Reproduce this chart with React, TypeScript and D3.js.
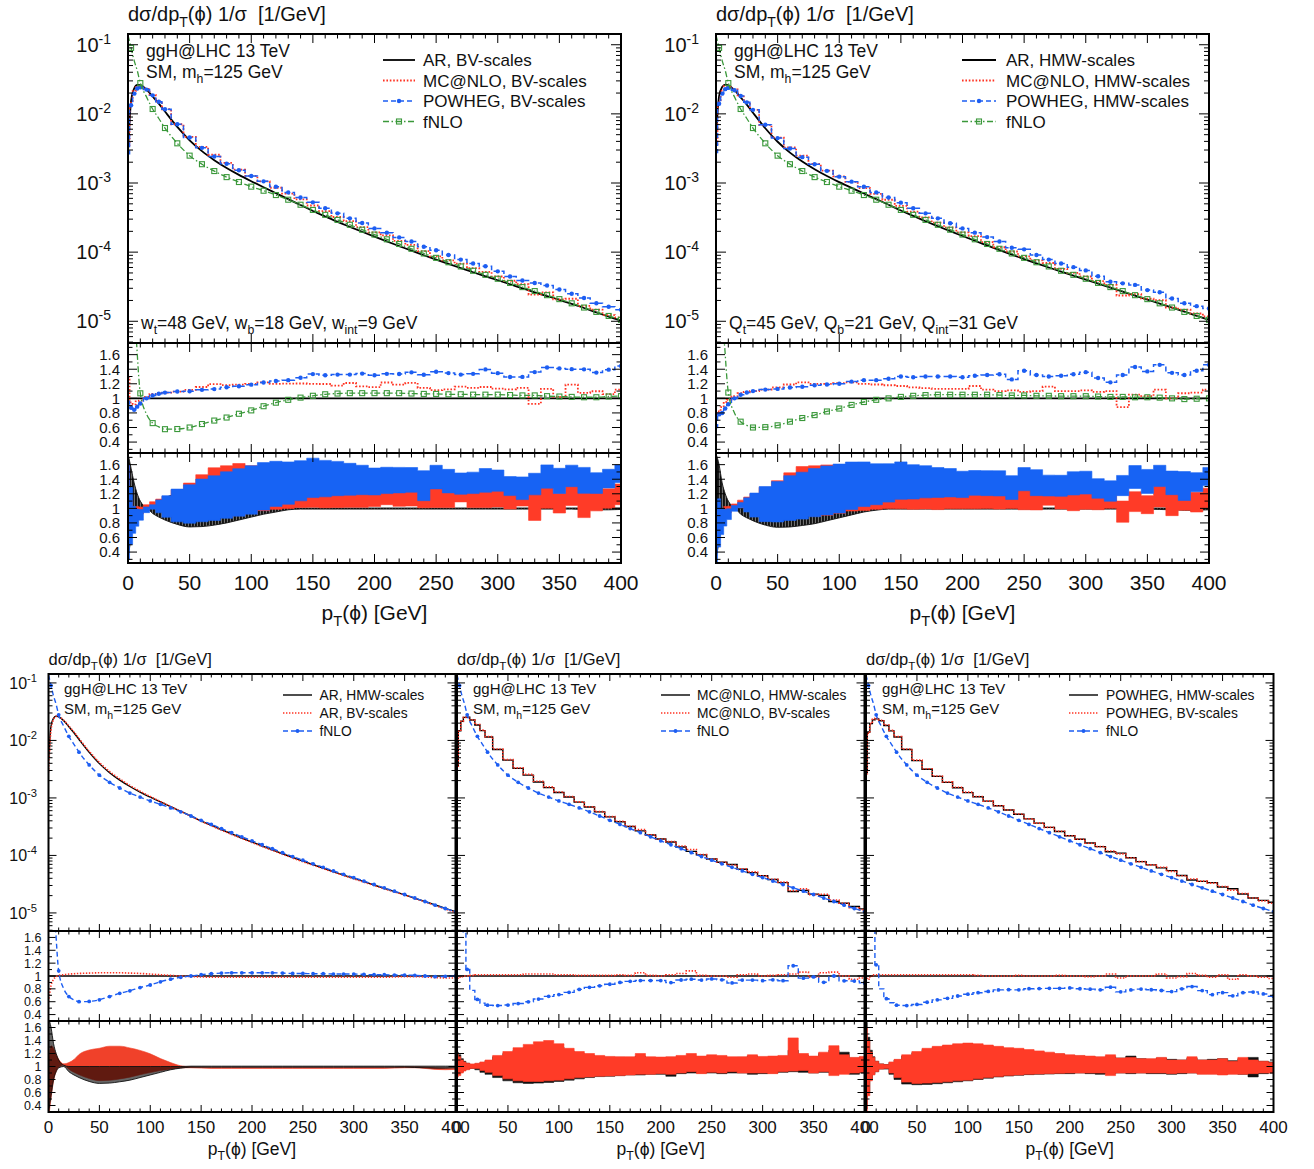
import React from "react";
import * as d3 from "d3";

// ---------------- data ----------------
const PT = [
  0, 2.5, 5, 7.5, 10, 15, 20, 25, 30,
  40, 50, 60, 70, 80, 90, 100, 110, 120, 130,
  140, 150, 160, 170, 180, 190, 200, 210, 220, 230,
  240, 250, 260, 270, 280, 290, 300, 310, 320, 330,
  340, 350, 360, 370, 380, 390, 400,
];

// AR, HMW-scales normalised distribution [1/GeV]
const AR_HMW = [
  4.6e-3, 1.8e-2, 2.45e-2, 2.65e-2, 2.58e-2, 2.2e-2, 1.73e-2, 1.36e-2, 1.04e-2,
  6.2e-3, 3.95e-3, 2.75e-3, 2.04e-3, 1.58e-3, 1.26e-3, 1.03e-3, 8.5e-4, 7.05e-4, 5.85e-4,
  4.85e-4, 4.0e-4, 3.35e-4, 2.8e-4, 2.37e-4, 2.01e-4, 1.71e-4, 1.46e-4, 1.25e-4, 1.07e-4,
  9.2e-5, 7.95e-5, 6.9e-5, 6.0e-5, 5.22e-5, 4.56e-5, 4.0e-5, 3.5e-5, 3.06e-5, 2.68e-5,
  2.35e-5, 2.06e-5, 1.8e-5, 1.58e-5, 1.38e-5, 1.2e-5, 1.05e-5,
];
// AR BV / AR HMW
const R_ARBV_HMW = [
  0.6, 0.85, 0.95, 0.99, 1.01, 1.02, 1.03, 1.035, 1.04,
  1.045, 1.05, 1.05, 1.05, 1.045, 1.04, 1.03, 1.02, 1.01, 1.0,
  0.99, 0.985, 0.98, 0.98, 0.98, 0.98, 0.98, 0.98, 0.98, 0.98,
  0.98, 0.98, 0.98, 0.98, 0.98, 0.98, 0.98, 0.98, 0.98, 0.98,
  0.985, 0.99, 0.99, 0.985, 0.975, 0.97, 0.97,
];
// fNLO / AR HMW
const R_FNLO_HMW = [
  30, 5, 2.4, 1.6, 1.08, 0.8, 0.68, 0.63, 0.6,
  0.605, 0.63, 0.68, 0.73, 0.77, 0.82, 0.86, 0.91, 0.95, 0.98,
  1.0, 1.02, 1.035, 1.045, 1.05, 1.05, 1.05, 1.05, 1.05, 1.045,
  1.04, 1.04, 1.035, 1.035, 1.03, 1.03, 1.03, 1.025, 1.02, 1.02,
  1.015, 1.015, 1.01, 1.0, 0.99, 0.995, 1.0,
];
// MC@NLO HMW / AR HMW
const R_MC_HMW = [
  0.8, 0.82, 0.88, 0.95, 0.98, 1.03, 1.07, 1.09, 1.1,
  1.12, 1.15, 1.19, 1.22, 1.2, 1.2, 1.21, 1.22, 1.2, 1.19,
  1.18, 1.17, 1.15, 1.14, 1.13, 1.13, 1.13, 1.17, 1.12, 1.1,
  1.11, 1.09, 1.1, 1.16, 1.1, 1.1, 1.11, 1.09, 1.1, 0.88,
  1.05, 1.03, 1.12, 1.0, 1.07, 1.08, 1.12,
];
// POWHEG HMW / AR HMW
const R_PW_HMW = [
  0.6, 0.78, 0.8, 0.86, 0.92, 1.0, 1.05, 1.08, 1.1,
  1.12, 1.13, 1.15, 1.16, 1.18, 1.19, 1.2, 1.23, 1.25, 1.25,
  1.27, 1.3, 1.29, 1.3, 1.3, 1.3, 1.29, 1.31, 1.32, 1.33,
  1.26, 1.38, 1.32, 1.3, 1.31, 1.33, 1.36, 1.28, 1.22, 1.32,
  1.43, 1.37, 1.46, 1.35, 1.32, 1.38, 1.46,
];
// MC@NLO BV / MC@NLO HMW
const R_MCBV_MCHMW = [
  0.97, 0.98, 0.99, 1.0, 1.0, 1.01, 1.02, 1.02, 1.02,
  1.02, 1.02, 1.02, 1.03, 1.03, 1.03, 1.02, 1.02, 1.01, 1.01,
  1.01, 1.01, 1.02, 1.01, 1.05, 1.01, 1.0, 1.02, 1.04, 1.08,
  1.01, 1.0, 1.0, 0.98, 1.02, 1.03, 1.0, 1.01, 1.02, 1.03,
  1.06, 0.98, 1.05, 1.06, 1.0, 0.95, 0.97,
];
// POWHEG BV / POWHEG HMW
const R_PWBV_PWHMW = [
  0.96, 0.95, 1.0, 1.02, 1.02, 1.02, 1.02, 1.02, 1.02,
  1.02, 1.02, 1.02, 1.02, 1.02, 1.02, 1.02, 1.01, 1.0, 1.0,
  1.0, 1.01, 1.0, 1.0, 1.0, 1.01, 1.0, 1.0, 0.99, 1.0,
  1.03, 0.97, 1.0, 1.0, 1.0, 1.03, 0.97, 0.99, 1.04, 1.01,
  0.98, 1.02, 0.95, 1.02, 1.0, 0.98, 0.96,
];

// scale-uncertainty bands (relative to the own HMW / BV central value as noted)
const BAND_AR_HMW_LO = [
  0.3, 0.55, 0.8, 0.92, 0.98, 1.0, 0.92, 0.87, 0.83,
  0.77, 0.74, 0.745, 0.765, 0.79, 0.83, 0.87, 0.91, 0.95, 0.975,
  0.99, 0.99, 0.99, 0.99, 0.99, 0.99, 0.99, 0.99, 0.99, 0.99,
  0.99, 0.99, 0.99, 0.99, 0.99, 0.99, 0.99, 0.99, 0.99, 0.99,
  0.99, 0.99, 0.985, 0.98, 0.975, 0.975, 0.98,
];
const BAND_AR_HMW_HI = [
  1.75, 1.6, 1.35, 1.2, 1.1, 1.02, 1.0, 1.0, 1.0,
  1.0, 1.0, 1.0, 1.0, 1.0, 1.0, 1.0, 1.0, 1.0, 1.0,
  1.005, 1.005, 1.005, 1.005, 1.005, 1.005, 1.005, 1.005, 1.005, 1.005,
  1.005, 1.005, 1.005, 1.005, 1.005, 1.005, 1.005, 1.005, 1.005, 1.005,
  1.005, 1.005, 1.005, 1.005, 1.005, 1.005, 1.005,
];
const BAND_AR_BV_LO = [
  0.3, 0.6, 0.82, 0.93, 0.98, 1.0, 0.93, 0.88, 0.84,
  0.78, 0.745, 0.75, 0.77, 0.8, 0.84, 0.88, 0.92, 0.95, 0.98,
  0.99, 0.99, 0.99, 0.99, 0.99, 0.99, 0.99, 0.99, 0.99, 0.99,
  0.99, 0.99, 0.99, 0.99, 0.99, 0.99, 0.99, 0.99, 0.99, 0.99,
  0.99, 0.99, 0.99, 0.985, 0.98, 0.98, 0.985,
];
const BAND_AR_BV_HI = [
  1.75, 1.55, 1.35, 1.2, 1.1, 1.02, 1.03, 1.07, 1.14,
  1.2, 1.22, 1.25, 1.25, 1.23, 1.2, 1.16, 1.1, 1.05, 1.01,
  1.005, 1.005, 1.005, 1.005, 1.005, 1.005, 1.005, 1.005, 1.005, 1.005,
  1.005, 1.005, 1.005, 1.005, 1.005, 1.005, 1.005, 1.005, 1.005, 1.005,
  1.005, 1.005, 1.005, 1.005, 1.005, 1.005, 1.005,
];
const BAND_MC_HMW_LO = [
  0.88, 0.9, 0.92, 0.94, 0.96, 0.97, 0.95, 0.91, 0.88,
  0.83, 0.78, 0.75, 0.74, 0.745, 0.755, 0.77, 0.79, 0.81, 0.83,
  0.845, 0.85, 0.86, 0.87, 0.87, 0.88, 0.88, 0.85, 0.89, 0.9,
  0.9, 0.9, 0.89, 0.9, 0.9, 0.88, 0.89, 0.9, 0.91, 0.92,
  0.91, 0.9, 0.91, 0.9, 0.91, 0.88, 0.9,
];
const BAND_MC_HMW_HI = [
  1.22, 1.18, 1.12, 1.08, 1.05, 1.03, 1.04, 1.06, 1.09,
  1.15, 1.2, 1.25, 1.29, 1.32, 1.33, 1.3, 1.24, 1.2, 1.17,
  1.15, 1.14, 1.14, 1.13, 1.16, 1.13, 1.13, 1.14, 1.15, 1.16,
  1.15, 1.15, 1.15, 1.13, 1.14, 1.16, 1.14, 1.14, 1.15, 1.25,
  1.17, 1.14, 1.2, 1.25, 1.22, 1.13, 1.14,
];
const BAND_MC_BV_LO = [
  0.84, 0.86, 0.9, 0.93, 0.95, 0.97, 0.97, 0.94, 0.91,
  0.86, 0.81, 0.78, 0.77, 0.77, 0.78, 0.79, 0.81, 0.83, 0.84,
  0.85, 0.855, 0.86, 0.87, 0.88, 0.88, 0.89, 0.88, 0.9, 0.92,
  0.89, 0.91, 0.9, 0.92, 0.9, 0.9, 0.9, 0.89, 0.92, 0.93,
  0.94, 0.9, 0.92, 0.86, 0.88, 0.9, 0.91,
];
const BAND_MC_BV_HI = [
  1.2, 1.15, 1.1, 1.07, 1.05, 1.04, 1.05, 1.07, 1.1,
  1.17, 1.23, 1.29, 1.34, 1.38, 1.4, 1.35, 1.28, 1.23, 1.2,
  1.17, 1.155, 1.15, 1.15, 1.2, 1.15, 1.145, 1.15, 1.17, 1.2,
  1.16, 1.18, 1.17, 1.15, 1.15, 1.18, 1.155, 1.16, 1.17, 1.44,
  1.2, 1.16, 1.22, 1.32, 1.18, 1.14, 1.155,
];
const BAND_PW_HMW_LO = [
  0.35, 0.6, 0.8, 0.88, 0.92, 0.96, 0.96, 0.88, 0.8,
  0.73, 0.72, 0.725, 0.735, 0.75, 0.765, 0.78, 0.8, 0.82, 0.84,
  0.855, 0.865, 0.875, 0.88, 0.885, 0.89, 0.89, 0.9, 0.89, 0.88,
  0.89, 0.9, 0.89, 0.9, 0.89, 0.89, 0.88, 0.89, 0.9, 0.89,
  0.89, 0.88, 0.89, 0.88, 0.84, 0.89, 0.9,
];
const BAND_PW_HMW_HI = [
  1.68, 1.45, 1.25, 1.15, 1.08, 1.04, 1.03, 1.06, 1.1,
  1.16, 1.21, 1.26, 1.29, 1.31, 1.33, 1.34, 1.33, 1.31, 1.29,
  1.27, 1.26, 1.24, 1.22, 1.2, 1.19, 1.17, 1.16, 1.15, 1.14,
  1.15, 1.13, 1.16, 1.12, 1.11, 1.13, 1.11, 1.1, 1.13, 1.1,
  1.11, 1.12, 1.09, 1.12, 1.14, 1.08, 1.07,
];
const BAND_PW_BV_LO = [
  0.3, 0.55, 0.78, 0.87, 0.92, 0.96, 0.97, 0.9, 0.83,
  0.76, 0.74, 0.745, 0.755, 0.765, 0.78, 0.79, 0.81, 0.83, 0.845,
  0.86, 0.87, 0.88, 0.885, 0.89, 0.895, 0.9, 0.9, 0.9, 0.9,
  0.86, 0.9, 0.9, 0.9, 0.9, 0.9, 0.89, 0.9, 0.9, 0.88,
  0.88, 0.87, 0.88, 0.88, 0.89, 0.9, 0.9,
];
const BAND_PW_BV_HI = [
  1.6, 1.4, 1.22, 1.14, 1.08, 1.04, 1.03, 1.07, 1.11,
  1.18, 1.23, 1.28, 1.31, 1.33, 1.35, 1.36, 1.35, 1.33, 1.31,
  1.29, 1.28, 1.26, 1.24, 1.22, 1.2, 1.18, 1.17, 1.16, 1.15,
  1.18, 1.13, 1.14, 1.12, 1.12, 1.14, 1.1, 1.1, 1.15, 1.1,
  1.1, 1.12, 1.08, 1.14, 1.1, 1.08, 1.06,
];

const X_TICK_LABELS = [0, 50, 100, 150, 200, 250, 300, 350, 400];
const LOG_EXPONENTS = [-5, -4, -3, -2, -1];
const RATIO_TICK_LABELS = ["0.4", "0.6", "0.8", "1", "1.2", "1.4", "1.6"];
const LOG_DOMAIN: [number, number] = [4.85e-6, 0.143];

// ---------------- helpers ----------------
const mul = (...arrs: number[][]) => arrs[0].map((_, i) => arrs.reduce((p, a) => p * a[i], 1));
const div = (a: number[], b: number[]) => a.map((v, i) => v / b[i]);

const FONT = "'Liberation Sans', Arial, Helvetica, sans-serif";
const PHI = "\u03D5";
const RED = "#ff3322";
const BLUE = "#1d5ef2";
const GREEN = "#3a983a";
const RED_FILL = "#ff3b27";
const BLUE_FILL = "#1763f4";

const FN_IDX = PT.map((p, i) => ({ p, i })).filter((o) => o.i === 1 || (o.p >= 10 && o.p % 10 === 0)).map((o) => o.i);
const ALL_IDX = PT.map((_, i) => i).filter((i) => i > 0);

type Part = [string, number];
type Style = { color: string; width: number; dash?: string; marker?: "dot" | "sq"; mIdx?: number[] };
type LineDef = { y: number[]; st: Style; step: boolean };
type BandDef = { lo: number[]; hi: number[]; fill: string; step: boolean; opacity?: number; hatch?: boolean };
type PanelCfg = {
  id: string; x0: number; x1: number; small: boolean; yLabels: boolean;
  legend: { label: string; st: Style }[]; legX1: number; legX2: number; legTX: number;
  infoX: number; note?: Part[]; noteX?: number;
  main: LineDef[]; ratio: LineDef[]; bands: BandDef[];
};

const TOP = { yTop: 34, yMain: 343, yRatio: 453, yBand: 563, rd: [0.25, 1.76], xLabelY: 590, axisY: 620, titleY: 20.5, info1: 57, info2: 78, legY0: 60, legDy: 20.5, legBase: 6, noteY: 328.5 };
const BOT = { yTop: 674, yMain: 931, yRatio: 1021, yBand: 1112, rd: [0.3, 1.7], xLabelY: 1133, axisY: 1155, titleY: 665, info1: 694, info2: 714, legY0: 695, legDy: 18, legBase: 5, noteY: 0 };
const BIG = { tick: 21, log: 20, rat: 15, title: 20, leg: 17, info: 17.5, axis: 21, tMaj: 9, tMin: 4.5, lMaj: 10, lMin: 5, logGap: 17, ratGap: 8, dot: 2.2, sq: 5 };
const SMALL = { tick: 17, log: 16, rat: 12.5, title: 16.5, leg: 13.8, info: 15, axis: 17.5, tMaj: 7, tMin: 3.5, lMaj: 8, lMin: 4, logGap: 11.5, ratGap: 7, dot: 1.9, sq: 4 };

function Rich({ x, y, size, parts, anchor = "start" }: { x: number; y: number; size: number; parts: Part[]; anchor?: string }) {
  let cur = 0;
  return (
    <text x={x} y={y} fontSize={size} textAnchor={anchor as any} style={{ whiteSpace: "pre" }} fill="#111">
      {parts.map(([t, k], i) => {
        const target = k < 0 ? 0.3 * size : k > 0 ? -0.42 * size : 0;
        const dy = target - cur;
        cur = target;
        return (
          <tspan key={i} dy={dy} fontSize={k === 0 ? size : size * 0.7}>
            {t}
          </tspan>
        );
      })}
    </text>
  );
}

function Marker({ cx, cy, st, F }: { cx: number; cy: number; st: Style; F: typeof BIG }) {
  if (st.marker === "dot") return <circle cx={cx} cy={cy} r={F.dot} fill={st.color} />;
  if (st.marker === "sq")
    return <rect x={cx - F.sq / 2} y={cy - F.sq / 2} width={F.sq} height={F.sq} fill="none" stroke={st.color} strokeWidth={1.1} />;
  return null;
}

function Panel({ p }: { p: PanelCfg }) {
  const L = p.small ? BOT : TOP;
  const F = p.small ? SMALL : BIG;
  const x = d3.scaleLinear().domain([0, 400]).range([p.x0, p.x1]);
  const yL = d3.scaleLog().domain(LOG_DOMAIN).range([L.yMain, L.yTop]);
  const yR = d3.scaleLinear().domain(L.rd).range([L.yRatio, L.yMain]);
  const yB = d3.scaleLinear().domain(L.rd).range([L.yBand, L.yRatio]);
  const W = p.x1 - p.x0;

  const linePath = (ys: number[], sc: (v: number) => number, step: boolean) =>
    d3.line<number>().x((_, i) => x(PT[i])).y((v) => sc(v)).curve(step ? d3.curveStep : d3.curveMonotoneX)(ys) || "";
  const areaPath = (b: BandDef, sc: (v: number) => number) =>
    d3.area<number>().x((_, i) => x(PT[i])).y0((_, i) => sc(b.lo[i])).y1((_, i) => sc(b.hi[i])).curve(b.step ? d3.curveStep : d3.curveMonotoneX)(b.lo) || "";

  const drawLine = (l: LineDef, sc: (v: number) => number, key: string) => (
    <g key={key}>
      <path d={linePath(l.y, sc, l.step)} fill="none" stroke={l.st.color} strokeWidth={l.st.width} strokeDasharray={l.st.dash} />
      {l.st.marker && (l.st.mIdx || []).map((i) => <Marker key={i} cx={x(PT[i])} cy={sc(l.y[i])} st={l.st} F={F} />)}
    </g>
  );

  // ticks
  const ticks: JSX.Element[] = [];
  const xEdges: [number, number][] = [[L.yTop, 1], [L.yMain, -1], [L.yMain, 1], [L.yRatio, -1], [L.yRatio, 1], [L.yBand, -1]];
  for (let v = 0; v <= 400; v += 10) {
    const len = v % 50 === 0 ? F.tMaj : F.tMin;
    xEdges.forEach(([yy, d], j) => ticks.push(<line key={`x${v}-${j}`} x1={x(v)} x2={x(v)} y1={yy} y2={yy + d * len} />));
  }
  for (let e = -6; e <= 0; e++) {
    for (let k = 1; k <= 9; k++) {
      const v = k * Math.pow(10, e);
      if (v < LOG_DOMAIN[0] || v > LOG_DOMAIN[1]) continue;
      const len = k === 1 ? F.lMaj : F.lMin;
      const yy = yL(v);
      ticks.push(<line key={`l${e}-${k}a`} x1={p.x0} x2={p.x0 + len} y1={yy} y2={yy} />);
      ticks.push(<line key={`l${e}-${k}b`} x1={p.x1} x2={p.x1 - len} y1={yy} y2={yy} />);
    }
  }
  for (let j = 3; j <= 17; j++) {
    const v = j / 10;
    if (v < L.rd[0] || v > L.rd[1]) continue;
    const len = j % 2 === 0 ? F.tMaj : F.tMin;
    [yR(v), yB(v)].forEach((yy, q) => {
      ticks.push(<line key={`r${j}-${q}a`} x1={p.x0} x2={p.x0 + len} y1={yy} y2={yy} />);
      ticks.push(<line key={`r${j}-${q}b`} x1={p.x1} x2={p.x1 - len} y1={yy} y2={yy} />);
    });
  }

  return (
    <g>
      <defs>
        <clipPath id={`${p.id}-m`}><rect x={p.x0} y={L.yTop} width={W} height={L.yMain - L.yTop} /></clipPath>
        <clipPath id={`${p.id}-r`}><rect x={p.x0} y={L.yMain} width={W} height={L.yRatio - L.yMain} /></clipPath>
        <clipPath id={`${p.id}-b`}><rect x={p.x0} y={L.yRatio} width={W} height={L.yBand - L.yRatio} /></clipPath>
      </defs>

      {/* bands */}
      <g clipPath={`url(#${p.id}-b)`}>
        {p.bands.map((b, i) => (
          <path key={i} d={areaPath(b, yB)} fill={b.hatch ? "url(#hatch)" : b.fill} fillOpacity={b.opacity ?? 1}
            stroke={b.hatch || b.opacity ? "#111" : b.fill} strokeWidth={b.hatch || b.opacity ? 0.9 : 0.6} />
        ))}
      </g>

      {/* ratio */}
      <g clipPath={`url(#${p.id}-r)`}>
        <line x1={p.x0} x2={p.x1} y1={yR(1)} y2={yR(1)} stroke="#000" strokeWidth={p.small ? 1.4 : 1.8} />
        {p.ratio.map((l, i) => drawLine(l, yR, `r${i}`))}
      </g>

      {/* main */}
      <g clipPath={`url(#${p.id}-m)`}>{p.main.map((l, i) => drawLine(l, yL, `m${i}`))}</g>

      {/* frame + ticks */}
      <g stroke="#000" strokeWidth={1}>{ticks}</g>
      <rect x={p.x0} y={L.yTop} width={W} height={L.yBand - L.yTop} fill="none" stroke="#000" strokeWidth={2} />
      <line x1={p.x0} x2={p.x1} y1={L.yMain} y2={L.yMain} stroke="#000" strokeWidth={2} />
      <line x1={p.x0} x2={p.x1} y1={L.yRatio} y2={L.yRatio} stroke="#000" strokeWidth={2} />

      {/* axis labels */}
      {X_TICK_LABELS.map((v) => (
        <text key={v} x={x(v)} y={L.xLabelY} fontSize={F.tick} textAnchor="middle" fill="#111">{v}</text>
      ))}
      {p.yLabels && LOG_EXPONENTS.map((e) => (
        <Rich key={e} x={p.x0 - F.logGap} y={yL(Math.pow(10, e)) + 0.36 * F.log} size={F.log} anchor="end" parts={[["10", 0], [String(e), 1]]} />
      ))}
      {p.yLabels && RATIO_TICK_LABELS.map((s) => (
        <g key={s}>
          <text x={p.x0 - F.ratGap} y={yR(+s) + 0.36 * F.rat} fontSize={F.rat} textAnchor="end" fill="#111">{s}</text>
          <text x={p.x0 - F.ratGap} y={yB(+s) + 0.36 * F.rat} fontSize={F.rat} textAnchor="end" fill="#111">{s}</text>
        </g>
      ))}
      <Rich x={(p.x0 + p.x1) / 2} y={L.axisY} size={F.axis} anchor="middle" parts={[["p", 0], ["T", -1], [`(${PHI}) [GeV]`, 0]]} />
      <Rich x={p.x0} y={L.titleY} size={F.title} parts={[["dσ/dp", 0], ["T", -1], [`(${PHI}) 1/σ  [1/GeV]`, 0]]} />

      {/* info text */}
      <Rich x={p.infoX} y={L.info1} size={F.info} parts={[["ggH@LHC 13 TeV", 0]]} />
      <Rich x={p.infoX} y={L.info2} size={F.info} parts={[["SM, m", 0], ["h", -1], ["=125 GeV", 0]]} />
      {p.note && <Rich x={p.noteX!} y={L.noteY} size={F.info} parts={p.note} />}

      {/* legend */}
      {p.legend.map((it, i) => {
        const yy = L.legY0 + i * L.legDy;
        const mid = (p.legX1 + p.legX2) / 2;
        return (
          <g key={i}>
            <line x1={p.legX1} x2={p.legX2} y1={yy} y2={yy} stroke={it.st.color} strokeWidth={it.st.width} strokeDasharray={it.st.dash} />
            {it.st.marker && <Marker cx={mid} cy={yy} st={it.st} F={F} />}
            <text x={p.legTX} y={yy + L.legBase} fontSize={F.leg} fill="#111">{it.label}</text>
          </g>
        );
      })}
    </g>
  );
}

export default function App() {
  // derived distributions (products of the read ratio arrays)
  const AR_BV = mul(AR_HMW, R_ARBV_HMW);
  const MC_HMW = mul(AR_HMW, R_MC_HMW);
  const MC_BV = mul(MC_HMW, R_MCBV_MCHMW);
  const PW_HMW = mul(AR_HMW, R_PW_HMW);
  const PW_BV = mul(PW_HMW, R_PWBV_PWHMW);
  const FNLO = mul(AR_HMW, R_FNLO_HMW);

  const S_AR: Style = { color: "#000", width: 1.8 };
  const S_MC: Style = { color: RED, width: 1.8, dash: "1.6 1.8" };
  const S_PW: Style = { color: BLUE, width: 1.5, dash: "5 3", marker: "dot", mIdx: ALL_IDX };
  const S_FNG: Style = { color: GREEN, width: 1.3, dash: "6 2.5 1.5 2.5", marker: "sq", mIdx: FN_IDX };
  const s_BLK: Style = { color: "#000", width: 1.4 };
  const s_RED: Style = { color: RED, width: 1.6, dash: "1.4 1.6" };
  const s_FNB: Style = { color: BLUE, width: 1.4, dash: "5 3", marker: "dot", mIdx: FN_IDX };

  const panels: PanelCfg[] = [
    {
      id: "pA", x0: 128, x1: 621, small: false, yLabels: true,
      legend: [
        { label: "AR, BV-scales", st: S_AR },
        { label: "MC@NLO, BV-scales", st: S_MC },
        { label: "POWHEG, BV-scales", st: S_PW },
        { label: "fNLO", st: S_FNG },
      ],
      legX1: 383, legX2: 415, legTX: 423, infoX: 146, noteX: 141,
      note: [["w", 0], ["t", -1], ["=48 GeV, w", 0], ["b", -1], ["=18 GeV, w", 0], ["int", -1], ["=9 GeV", 0]],
      main: [
        { y: AR_BV, st: S_AR, step: false },
        { y: MC_BV, st: S_MC, step: true },
        { y: PW_BV, st: S_PW, step: true },
        { y: FNLO, st: S_FNG, step: false },
      ],
      ratio: [
        { y: div(MC_BV, AR_BV), st: S_MC, step: true },
        { y: div(PW_BV, AR_BV), st: S_PW, step: true },
        { y: div(FNLO, AR_BV), st: S_FNG, step: false },
      ],
      bands: [
        { lo: BAND_AR_BV_LO, hi: BAND_AR_BV_HI, fill: "#222", step: false, hatch: true },
        { lo: div(mul(BAND_MC_BV_LO, MC_HMW), AR_BV), hi: div(mul(BAND_MC_BV_HI, MC_HMW), AR_BV), fill: RED_FILL, step: true },
        { lo: div(mul(BAND_PW_BV_LO, PW_HMW), AR_BV), hi: div(mul(BAND_PW_BV_HI, PW_HMW), AR_BV), fill: BLUE_FILL, step: true },
      ],
    },
    {
      id: "pB", x0: 716, x1: 1209, small: false, yLabels: true,
      legend: [
        { label: "AR, HMW-scales", st: S_AR },
        { label: "MC@NLO, HMW-scales", st: S_MC },
        { label: "POWHEG, HMW-scales", st: S_PW },
        { label: "fNLO", st: S_FNG },
      ],
      legX1: 962, legX2: 996, legTX: 1006, infoX: 734, noteX: 729,
      note: [["Q", 0], ["t", -1], ["=45 GeV, Q", 0], ["b", -1], ["=21 GeV, Q", 0], ["int", -1], ["=31 GeV", 0]],
      main: [
        { y: AR_HMW, st: S_AR, step: false },
        { y: MC_HMW, st: S_MC, step: true },
        { y: PW_HMW, st: S_PW, step: true },
        { y: FNLO, st: S_FNG, step: false },
      ],
      ratio: [
        { y: R_MC_HMW, st: S_MC, step: true },
        { y: R_PW_HMW, st: S_PW, step: true },
        { y: R_FNLO_HMW, st: S_FNG, step: false },
      ],
      bands: [
        { lo: BAND_AR_HMW_LO, hi: BAND_AR_HMW_HI, fill: "#222", step: false, hatch: true },
        { lo: mul(BAND_MC_HMW_LO, R_MC_HMW), hi: mul(BAND_MC_HMW_HI, R_MC_HMW), fill: RED_FILL, step: true },
        { lo: mul(BAND_PW_HMW_LO, R_PW_HMW), hi: mul(BAND_PW_HMW_HI, R_PW_HMW), fill: BLUE_FILL, step: true },
      ],
    },
    {
      id: "pC", x0: 48.5, x1: 455.5, small: true, yLabels: true,
      legend: [
        { label: "AR, HMW-scales", st: s_BLK },
        { label: "AR, BV-scales", st: s_RED },
        { label: "fNLO", st: s_FNB },
      ],
      legX1: 283, legX2: 312, legTX: 319.5, infoX: 64,
      main: [
        { y: AR_HMW, st: s_BLK, step: false },
        { y: AR_BV, st: s_RED, step: false },
        { y: FNLO, st: s_FNB, step: false },
      ],
      ratio: [
        { y: R_ARBV_HMW, st: s_RED, step: false },
        { y: R_FNLO_HMW, st: s_FNB, step: false },
      ],
      bands: [
        { lo: mul(BAND_AR_BV_LO, R_ARBV_HMW), hi: mul(BAND_AR_BV_HI, R_ARBV_HMW), fill: "#f0412a", step: false },
        { lo: BAND_AR_HMW_LO, hi: BAND_AR_HMW_HI, fill: "#000", step: false, opacity: 0.6 },
      ],
    },
    {
      id: "pD", x0: 457, x1: 864.5, small: true, yLabels: false,
      legend: [
        { label: "MC@NLO, HMW-scales", st: s_BLK },
        { label: "MC@NLO, BV-scales", st: s_RED },
        { label: "fNLO", st: s_FNB },
      ],
      legX1: 661, legX2: 690, legTX: 697, infoX: 473,
      main: [
        { y: MC_HMW, st: s_BLK, step: true },
        { y: MC_BV, st: s_RED, step: true },
        { y: FNLO, st: s_FNB, step: false },
      ],
      ratio: [
        { y: R_MCBV_MCHMW, st: s_RED, step: true },
        { y: div(FNLO, MC_HMW), st: s_FNB, step: true },
      ],
      bands: [
        { lo: BAND_MC_HMW_LO, hi: BAND_MC_HMW_HI, fill: "#111", step: true },
        { lo: BAND_MC_BV_LO, hi: BAND_MC_BV_HI, fill: RED_FILL, step: true },
      ],
    },
    {
      id: "pE", x0: 866, x1: 1273.5, small: true, yLabels: false,
      legend: [
        { label: "POWHEG, HMW-scales", st: s_BLK },
        { label: "POWHEG, BV-scales", st: s_RED },
        { label: "fNLO", st: s_FNB },
      ],
      legX1: 1069, legX2: 1098, legTX: 1106, infoX: 882,
      main: [
        { y: PW_HMW, st: s_BLK, step: true },
        { y: PW_BV, st: s_RED, step: true },
        { y: FNLO, st: s_FNB, step: false },
      ],
      ratio: [
        { y: R_PWBV_PWHMW, st: s_RED, step: true },
        { y: div(FNLO, PW_HMW), st: s_FNB, step: true },
      ],
      bands: [
        { lo: BAND_PW_HMW_LO, hi: BAND_PW_HMW_HI, fill: "#111", step: true },
        { lo: BAND_PW_BV_LO, hi: BAND_PW_BV_HI, fill: RED_FILL, step: true },
      ],
    },
  ];

  return (
    <svg width={1314} height={1169} style={{ position: "absolute", left: 0, top: 0, background: "#fff" }} fontFamily={FONT}>
      <defs>
        <pattern id="hatch" patternUnits="userSpaceOnUse" width="3" height="6">
          <rect width="3" height="6" fill="#707070" />
          <rect width="1.9" height="6" fill="#111" />
        </pattern>
      </defs>
      <rect width={1314} height={1169} fill="#fff" />
      {panels.map((p) => (
        <Panel key={p.id} p={p} />
      ))}
    </svg>
  );
}
